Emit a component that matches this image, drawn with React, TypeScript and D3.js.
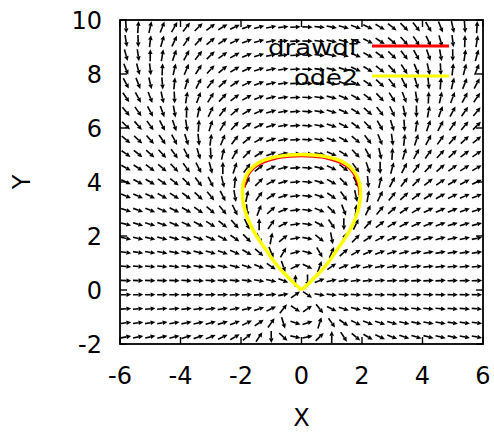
import React from 'react';
import * as d3 from 'd3';

// axis ranges and tick labels
const X_DOMAIN = [-6, 6];
const Y_DOMAIN = [-2, 10];
const X_TICKS = [-6, -4, -2, 0, 2, 4, 6];
const Y_TICKS = [-2, 0, 2, 4, 6, 8, 10];

// direction field grid (arrows at cell centres)
const FIELD_COLS = 30;
const FIELD_ROWS = 23;
// the ODE shown by drawdf: dy/dx = 2xy / (3x^2 - y^2)
const slope = (x: number, y: number) => (2 * x * y) / (3 * x * x - y * y);

// ode2 solution (yellow), cusp -> left -> top -> right -> cusp
const ode2X = [0, -0.28, -0.55, -0.87, -1.15, -1.4, -1.59, -1.76, -1.88, -1.95, -1.93, -1.82, -1.62, -1.3, -0.85, -0.4, 0,
  0.4, 0.85, 1.3, 1.62, 1.82, 1.93, 1.95, 1.88, 1.76, 1.59, 1.4, 1.15, 0.87, 0.55, 0.28, 0];
const ode2Y = [0, 0.29, 0.59, 1.0, 1.45, 1.85, 2.2, 2.6, 3.0, 3.45, 3.9, 4.25, 4.55, 4.78, 4.93, 5.0, 5.02,
  5.0, 4.93, 4.78, 4.55, 4.25, 3.9, 3.45, 3.0, 2.6, 2.2, 1.85, 1.45, 1.0, 0.59, 0.29, 0];

// drawdf numeric solution (red), only the upper arc shows
const dfX = [-1.9, -1.8, -1.6, -1.28, -0.85, -0.4, 0, 0.4, 0.85, 1.28, 1.6, 1.8, 1.9, 1.92];
const dfY = [3.8, 4.2, 4.5, 4.73, 4.88, 4.95, 4.97, 4.95, 4.88, 4.73, 4.5, 4.18, 3.85, 3.5];

const legendKeys = ['drawdf', 'ode2'];
const legendColors = ['#ff0000', '#ffff00'];
const legendWidths = [90, 64];

const W = 494, H = 432;
const m = { left: 120, right: 11, top: 20, bottom: 88 };

export default function App() {
  const x = d3.scaleLinear().domain(X_DOMAIN).range([m.left, W - m.right]);
  const y = d3.scaleLinear().domain(Y_DOMAIN).range([H - m.bottom, m.top]);

  const hx = (X_DOMAIN[1] - X_DOMAIN[0]) / FIELD_COLS;
  const hy = (Y_DOMAIN[1] - Y_DOMAIN[0]) / FIELD_ROWS;
  const s = 0.86;

  const arrows: { x1: number; y1: number; x2: number; y2: number }[] = [];
  for (let i = 0; i < FIELD_COLS; i++) {
    for (let j = 0; j < FIELD_ROWS; j++) {
      const cx = X_DOMAIN[0] + (i + 0.5) * hx;
      const cy = Y_DOMAIN[0] + (j + 0.5) * hy;
      let f = slope(cx, cy);
      if (!isFinite(f)) f = 1e6;
      // normalise in grid units so each arrow fits its cell
      let u = 1 / hx, v = f / hy;
      const n = Math.hypot(u, v);
      u = (u / n) * hx * s;
      v = (v / n) * hy * s;
      arrows.push({
        x1: x(cx - u / 2), y1: y(cy - v / 2),
        x2: x(cx + u / 2), y2: y(cy + v / 2)
      });
    }
  }

  const line = d3.line<[number, number]>()
    .x(d => x(d[0]))
    .y(d => y(d[1]))
    .curve(d3.curveCatmullRom.alpha(0.5));

  const ode2Pts = ode2X.map((d, i) => [d, ode2Y[i]] as [number, number]);
  const dfPts = dfX.map((d, i) => [d, dfY[i]] as [number, number]);

  const font = { fontFamily: 'DejaVu Sans', fontSize: 24 };
  const tick = 7;
  const [x0, x1] = x.range();
  const [y0, y1] = y.range();

  return (
    <div style={{ position: 'absolute', left: 0, top: 0 }}>
      <svg width={W} height={H} style={{ display: 'block', background: '#fff' }}>
        <defs>
          <clipPath id="plot">
            <rect x={x0} y={y1} width={x1 - x0} height={y0 - y1} />
          </clipPath>
        </defs>

        {/* direction field */}
        <g clipPath="url(#plot)">
          {arrows.map((a, k) => {
            const ang = Math.atan2(a.y2 - a.y1, a.x2 - a.x1);
            const hl = 4.8, hw = 2.3;
            const bx = a.x2 - hl * Math.cos(ang), by = a.y2 - hl * Math.sin(ang);
            const px = -Math.sin(ang) * hw, py = Math.cos(ang) * hw;
            return (
              <g key={k}>
                <line x1={a.x1} y1={a.y1} x2={bx} y2={by} stroke="#000" strokeWidth={1.6} />
                <polygon points={`${a.x2},${a.y2} ${bx + px},${by + py} ${bx - px},${by - py}`} fill="#000" />
              </g>
            );
          })}
        </g>

        {/* solutions */}
        <path d={line(dfPts) || ''} fill="none" stroke={legendColors[0]} strokeWidth={3} />
        <path d={line(ode2Pts) || ''} fill="none" stroke={legendColors[1]} strokeWidth={3.5} strokeLinejoin="miter" />

        {/* frame and ticks */}
        <rect x={x0} y={y1} width={x1 - x0} height={y0 - y1} fill="none" stroke="#000" strokeWidth={1.8} />
        {X_TICKS.map(t => (
          <g key={'xt' + t}>
            <line x1={x(t)} x2={x(t)} y1={y0} y2={y0 - tick} stroke="#000" strokeWidth={1.4} />
            <line x1={x(t)} x2={x(t)} y1={y1} y2={y1 + tick} stroke="#000" strokeWidth={1.4} />
            <text x={x(t)} y={384} textAnchor="middle" {...font}>{t}</text>
          </g>
        ))}
        {Y_TICKS.map(t => (
          <g key={'yt' + t}>
            <line x1={x0} x2={x0 + tick} y1={y(t)} y2={y(t)} stroke="#000" strokeWidth={1.4} />
            <line x1={x1} x2={x1 - tick} y1={y(t)} y2={y(t)} stroke="#000" strokeWidth={1.4} />
            <text x={102} y={y(t)} dy="0.36em" textAnchor="end" {...font}>{t}</text>
          </g>
        ))}

        {/* axis titles */}
        <text x={(x0 + x1) / 2} y={426} textAnchor="middle" {...font}>X</text>
        <text transform={`translate(30,${(y0 + y1) / 2}) rotate(-90)`} textAnchor="middle" {...font}>Y</text>

        {/* legend */}
        {legendKeys.map((k, i) => {
          const ly = 46 + i * 30;
          return (
            <g key={k}>
              <text x={358 - legendWidths[i]} y={ly + 8.5} {...font} fontSize={22}
                textLength={legendWidths[i]} lengthAdjust="spacingAndGlyphs">{k}</text>
              <line x1={372} x2={449} y1={ly} y2={ly} stroke={legendColors[i]} strokeWidth={3} />
            </g>
          );
        })}
      </svg>
    </div>
  );
}
